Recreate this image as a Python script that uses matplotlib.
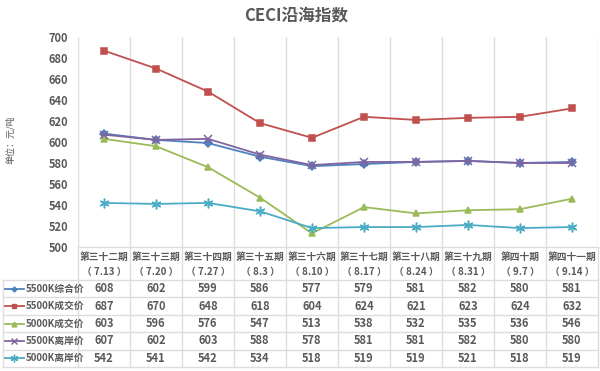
import numpy as np
import matplotlib
matplotlib.use('Agg')
import matplotlib.pyplot as plt

plt.rcParams['font.family'] = ['Noto Sans CJK SC', 'DejaVu Sans']

periods = ['第三十二期', '第三十三期', '第三十四期', '第三十五期', '第三十六期',
           '第三十七期', '第三十八期', '第三十九期', '第四十期', '第四十一期']
dates = ['7.13', '7.20', '7.27', '8.3', '8.10', '8.17', '8.24', '8.31', '9.7', '9.14']

names = ['5500K综合价', '5500K成交价', '5000K成交价', '5500K离岸价', '5000K离岸价']
p5500_all = [608, 602, 599, 586, 577, 579, 581, 582, 580, 581]
p5500_deal = [687, 670, 648, 618, 604, 624, 621, 623, 624, 632]
p5000_deal = [603, 596, 576, 547, 513, 538, 532, 535, 536, 546]
p5500_fob = [607, 602, 603, 588, 578, 581, 581, 582, 580, 580]
p5000_fob = [542, 541, 542, 534, 518, 519, 519, 521, 518, 519]
series = [p5500_all, p5500_deal, p5000_deal, p5500_fob, p5000_fob]

colors = ['#4F81BD', '#C0504D', '#9BBB59', '#8064A2', '#4BACC6']
markers = ['D', 's', '^', 'x', (6, 2, 0)]
msizes = [4, 5, 5, 6, 7]

W, H = 600, 371
fig = plt.figure(figsize=(6, 3.71), dpi=100)
grid_c = '#DDDDDD'
txt_c = '#595959'

# plot area in pixels
left, right, top, bot = 78, 598, 37, 247
n = len(periods)
colw = (right - left) / n
ax = fig.add_axes([left / W, 1 - bot / H, (right - left) / W, (bot - top) / H])
x = np.arange(n)
for vals, c, m, s in zip(series, colors, markers, msizes):
    ax.plot(x, vals, color=c, marker=m, markersize=s, lw=1.3, mew=1.1)
ax.set_xlim(-0.5, n - 0.5)
ax.set_ylim(500, 700)
ax.set_yticks(np.arange(500, 701, 20))
ax.set_xticks([])
for i in range(n + 1):
    ax.axvline(i - 0.5, color=grid_c, lw=1, zorder=0)
for sp in ax.spines.values():
    sp.set_visible(False)
ax.tick_params(axis='y', length=0, pad=7, labelsize=8, labelcolor=txt_c)
for t in ax.get_yticklabels():
    t.set_fontweight('bold')

fig.text(296 / W, 1 - 15 / H, 'CECI沿海指数', ha='center', va='center',
         fontsize=12, fontweight='bold', color=txt_c)
fig.text(10 / W, 1 - 140 / H, '单位：元/吨', ha='center', va='center',
         rotation=90, fontsize=6.5, color=txt_c)

# data table below, drawn in pixel coordinates
tab = fig.add_axes([0, 0, 1, 1])
tab.set_xlim(0, W)
tab.set_ylim(H, 0)
tab.axis('off')
head_b = 280
row_h = 17.4
rows_y = [head_b + k * row_h for k in range(len(series) + 1)]
for i in range(n + 1):
    xx = left + i * colw
    tab.plot([xx, xx], [bot, rows_y[-1]], color=grid_c, lw=1)
tab.plot([3, 3], [head_b, rows_y[-1]], color=grid_c, lw=1)
for yy in rows_y:
    tab.plot([3, right], [yy, yy], color=grid_c, lw=1)
tab.plot([left, right], [bot, bot], color=grid_c, lw=1)

for i in range(n):
    cx = left + (i + 0.5) * colw
    tab.text(cx, 257, periods[i], ha='center', va='center', fontsize=7,
             color=txt_c, fontweight='bold')
    tab.text(cx, 272, '（ ' + dates[i] + ' ）', ha='center', va='center',
             fontsize=7, color=txt_c, fontweight='bold')

for r, (vals, nm, c, m, s) in enumerate(zip(series, names, colors, markers, msizes)):
    cy = (rows_y[r] + rows_y[r + 1]) / 2
    tab.plot([5, 24], [cy, cy], color=c, lw=1.3)
    tab.plot([14], [cy], marker=m, color=c, markersize=s - 1.5, mew=1)
    tab.text(26, cy, nm, ha='left', va='center', fontsize=7, color=txt_c,
             fontweight='bold')
    for i, v in enumerate(vals):
        tab.text(left + (i + 0.5) * colw, cy, str(v), ha='center', va='center',
                 fontsize=8, color=txt_c, fontweight='bold')

fig.savefig('out.png', dpi=100)
